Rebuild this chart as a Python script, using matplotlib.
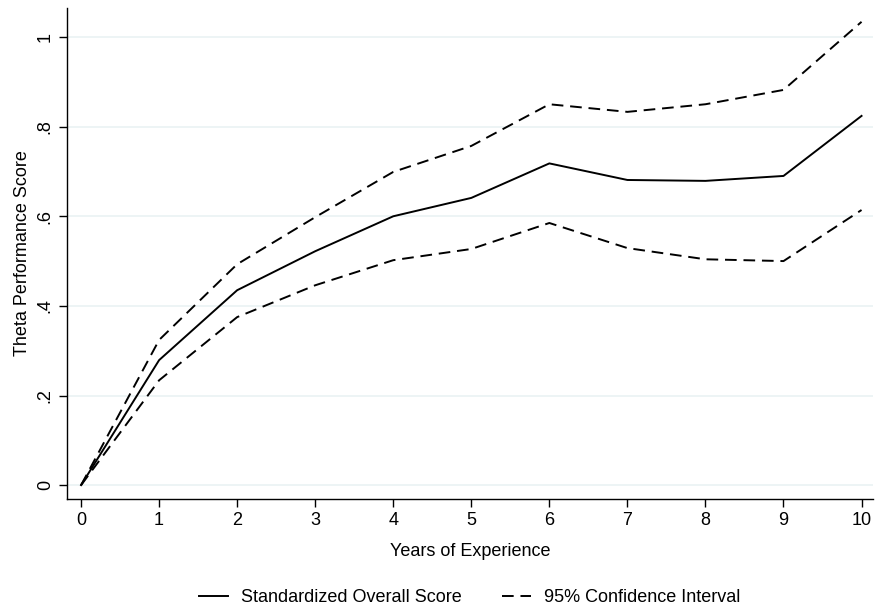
import numpy as np
import matplotlib.pyplot as plt

plt.rcParams['font.family'] = ['Liberation Sans', 'DejaVu Sans']

# datos
years = [0, 1, 2, 3, 4, 5, 6, 7, 8, 9, 10]
score = [0, 0.279, 0.435, 0.522, 0.600, 0.641, 0.718, 0.681, 0.679, 0.690, 0.824]
upper = [0, 0.324, 0.493, 0.598, 0.699, 0.757, 0.850, 0.833, 0.850, 0.882, 1.034]
lower = [0, 0.234, 0.375, 0.446, 0.502, 0.527, 0.585, 0.529, 0.504, 0.500, 0.614]
yticks = [0, 0.2, 0.4, 0.6, 0.8, 1.0]
yticklabels = ["0", ".2", ".4", ".6", ".8", "1"]

fig = plt.figure(figsize=(8.75, 6.09), dpi=100)
ax = fig.add_axes([0.0766, 0.1806, 0.9214, 0.8064])

for t in yticks:
    ax.axhline(t, color="#eaf2f3", lw=1.2, zorder=0)

ax.plot(years, score, color="black", lw=1.4, label="Standardized Overall Score")
ax.plot(years, upper, color="black", lw=1.4, ls=(0, (6, 3.5)), label="95% Confidence Interval")
ax.plot(years, lower, color="black", lw=1.4, ls=(0, (6, 3.5)))

ax.set_xlim(-0.18, 10.15)
ax.set_ylim(-0.031, 1.065)
ax.set_xticks(years)
ax.set_yticks(yticks)
ax.set_yticklabels(yticklabels, rotation=90, va="center")
ax.tick_params(direction="out", length=6, width=1, labelsize=13, color="black")
ax.spines["top"].set_visible(False)
ax.spines["right"].set_visible(False)
ax.spines["left"].set_linewidth(1)
ax.spines["bottom"].set_linewidth(1)

ax.set_xlabel("Years of Experience", fontsize=13, labelpad=10)
ax.set_ylabel("Theta Performance Score", fontsize=13, labelpad=4)

# leyenda centrada respecto al eje
fig.legend(loc="lower center", bbox_to_anchor=(0.537, -0.022), ncol=2, frameon=False,
           fontsize=13, handlelength=1.6, handletextpad=0.75, columnspacing=2.2)

fig.savefig("out.png", dpi=100)
